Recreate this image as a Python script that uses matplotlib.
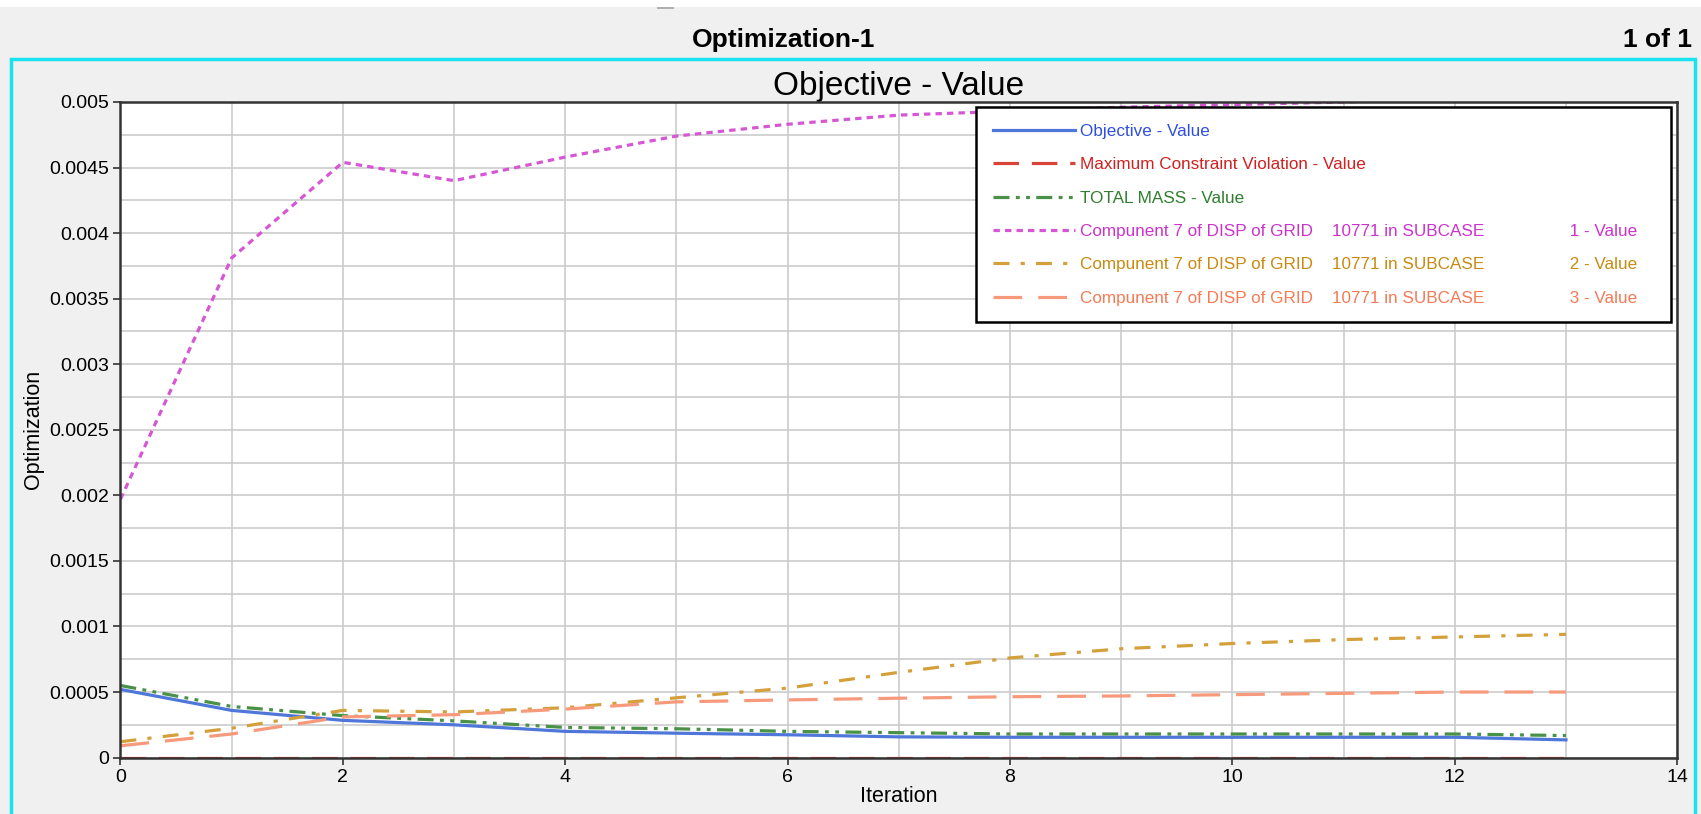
import numpy as np
import matplotlib.pyplot as plt
from matplotlib.patches import Rectangle
from matplotlib.ticker import MultipleLocator, FuncFormatter

plt.rcParams['font.family'] = ['Liberation Sans', 'DejaVu Sans']

# data
iterations = [0, 1, 2, 3, 4, 5, 6, 7, 8, 9, 10, 11, 12, 13]
objective = [0.00052, 0.00036, 0.000284, 0.00025, 0.0002, 0.000186, 0.000174,
             0.000158, 0.000155, 0.000155, 0.000155, 0.000155, 0.000155, 0.000135]
max_violation = [0.0, 0.0, 0.0, 0.0, 0.0, 0.0, 0.0, 0.0, 0.0, 0.0, 0.0, 0.0, 0.0, 0.0]
total_mass = [0.00055, 0.00039, 0.00032, 0.00028, 0.00023, 0.00022, 0.0002,
              0.00019, 0.00018, 0.00018, 0.00018, 0.00018, 0.00018, 0.000168]
disp_sub1 = [0.00197, 0.00381, 0.00454, 0.0044, 0.00458, 0.00474, 0.00483,
             0.0049, 0.00493, 0.00496, 0.00498, 0.005, 0.00502, 0.00503]
disp_sub2 = [0.000121, 0.000224, 0.00036, 0.000348, 0.00038, 0.000456, 0.00053,
             0.00065, 0.00076, 0.00083, 0.00087, 0.0009, 0.00092, 0.00094]
disp_sub3 = [0.00009, 0.00018, 0.00031, 0.000327, 0.00037, 0.000425, 0.00044,
             0.000453, 0.000464, 0.00047, 0.00048, 0.00049, 0.0005, 0.0005]

labels = ['Objective - Value',
          'Maximum Constraint Violation - Value',
          'TOTAL MASS - Value',
          'Compunent 7 of DISP of GRID    10771 in SUBCASE                  1 - Value',
          'Compunent 7 of DISP of GRID    10771 in SUBCASE                  2 - Value',
          'Compunent 7 of DISP of GRID    10771 in SUBCASE                  3 - Value']
colors = ['#4f77d9', '#d9443a', '#4a9148', '#d656d6', '#d4a03c', '#f79a7c']
text_colors = ['#2f4fe0', '#d02020', '#2f7f2f', '#cc33cc', '#c88a10', '#f57a55']

fig = plt.figure(figsize=(17.01, 8.14), dpi=100)
fig.patch.set_facecolor('#f0f0f0')

# white strip at the very top and the small grey tab
fig.add_artist(Rectangle((0, 0.992), 1, 0.008, transform=fig.transFigure,
                         facecolor='white', edgecolor='none'))
fig.add_artist(Rectangle((0.386, 0.989), 0.01, 0.003, transform=fig.transFigure,
                         facecolor='#b0b0b0', edgecolor='none'))

# cyan frame
fig.add_artist(Rectangle((0.0064, -0.05), 0.9898, 0.977, transform=fig.transFigure,
                         facecolor='none', edgecolor='#19e3ee', lw=2.5))

fig.text(0.4605, 0.951, 'Optimization-1', ha='center', va='center',
         fontsize=19, fontweight='bold')
fig.text(0.995, 0.951, '1 of 1', ha='right', va='center',
         fontsize=19, fontweight='bold')

ax = fig.add_axes([0.0708, 0.0693, 0.9152, 0.8054])
ax.set_facecolor('white')

lw = 2.3
series = [objective, max_violation, total_mass, disp_sub1, disp_sub2, disp_sub3]
styles = ['-', (0, (8, 4)), (0, (5, 2, 1.2, 2, 1.2, 2)), (0, (2, 1.6)),
          (0, (5, 3.5, 1.3, 3.5)), (0, (9, 5))]
lines = []
for vals, c, ls, lab in zip(series, colors, styles, labels):
    ln, = ax.plot(iterations, vals, color=c, linestyle=ls, lw=lw, label=lab,
                  zorder=3)
    lines.append(ln)
lines[1].set_zorder(1)

ax.set_xlim(0, 14)
ax.set_ylim(0, 0.005)
ax.xaxis.set_major_locator(MultipleLocator(2))
ax.xaxis.set_minor_locator(MultipleLocator(1))
ax.yaxis.set_major_locator(MultipleLocator(0.0005))
ax.yaxis.set_minor_locator(MultipleLocator(0.00025))
ax.yaxis.set_major_formatter(FuncFormatter(lambda v, p: '%g' % round(v, 6)))
ax.grid(True, which='both', color='#cccccc', lw=1.2, zorder=0)
ax.set_axisbelow(True)
ax.tick_params(which='major', labelsize=14, length=5, width=1.2, pad=3,
               color='#333333')
ax.tick_params(which='minor', length=0)
for sp in ax.spines.values():
    sp.set_linewidth(1.8)
    sp.set_color('#333333')
    sp.set_zorder(5)

ax.set_title('Objective - Value', fontsize=24, pad=4)
ax.set_xlabel('Iteration', fontsize=15.5, labelpad=0)
ax.set_ylabel('Optimization', fontsize=15.5, labelpad=4)

leg = ax.legend(loc='upper left', bbox_to_anchor=(0.5498, 0.669, 0.446, 0.3227),
                mode='expand', borderaxespad=0, fontsize=12.3, handlelength=4.8,
                labelspacing=1.08, borderpad=0.95, handletextpad=0.3,
                frameon=True, fancybox=False, framealpha=1, edgecolor='black')
leg.get_frame().set_linewidth(1.8)
leg.set_zorder(6)
for t, c in zip(leg.get_texts(), text_colors):
    t.set_color(c)

fig.savefig('out.png', dpi=100, facecolor=fig.get_facecolor())
